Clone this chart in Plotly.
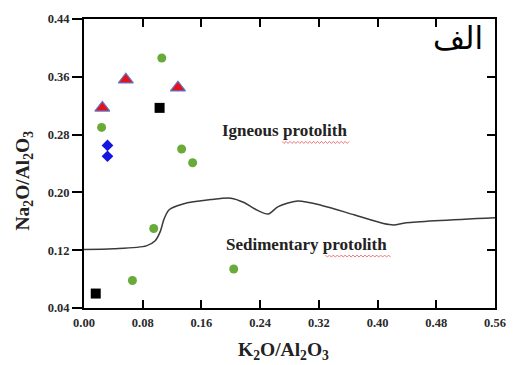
import plotly.graph_objects as go

# Data
green_x = [0.106, 0.024, 0.133, 0.148, 0.095, 0.066, 0.204]
green_y = [0.386, 0.290, 0.260, 0.241, 0.150, 0.078, 0.094]
tri_x = [0.025, 0.057, 0.128]
tri_y = [0.317, 0.356, 0.345]
sq_x = [0.103, 0.016]
sq_y = [0.317, 0.060]
dia_x = [0.032, 0.032]
dia_y = [0.265, 0.250]
curve_x = [0.0, 0.04, 0.085, 0.097, 0.104, 0.109, 0.116, 0.135, 0.173, 0.200, 0.218,
           0.233, 0.251, 0.264, 0.291, 0.324, 0.368, 0.408, 0.422, 0.439, 0.560]
curve_y = [0.121, 0.122, 0.126, 0.133, 0.146, 0.163, 0.176, 0.184, 0.190, 0.192, 0.186,
           0.177, 0.170, 0.180, 0.188, 0.182, 0.169, 0.157, 0.155, 0.158, 0.165]
x_ticks = [0.0, 0.08, 0.16, 0.24, 0.32, 0.40, 0.48, 0.56]
y_ticks = [0.04, 0.12, 0.20, 0.28, 0.36, 0.44]
x_tick_text = ["0.00", "0.08", "0.16", "0.24", "0.32", "0.40", "0.48", "0.56"]
y_tick_text = ["0.04", "0.12", "0.20", "0.28", "0.36", "0.44"]

serif = "Liberation Serif, Times New Roman, serif"
fig = go.Figure()
fig.add_trace(go.Scatter(x=curve_x, y=curve_y, mode="lines",
                         line=dict(color="#3a3a3a", width=1.5, shape="spline", smoothing=0.8),
                         hoverinfo="skip"))
fig.add_trace(go.Scatter(x=green_x, y=green_y, mode="markers",
                         marker=dict(symbol="circle", size=9, color="#6aaa3a")))
fig.add_trace(go.Scatter(x=tri_x, y=tri_y, mode="markers",
                         marker=dict(symbol="triangle-up", size=13, color="#e8101a",
                                     line=dict(color="#5a78c8", width=1.2))))
fig.add_trace(go.Scatter(x=sq_x, y=sq_y, mode="markers",
                         marker=dict(symbol="square", size=10, color="black")))
fig.add_trace(go.Scatter(x=dia_x, y=dia_y, mode="markers",
                         marker=dict(symbol="diamond", size=9, color="#1515e0")))
# invisible trace to draw the mirrored tick axes
fig.add_trace(go.Scatter(x=[0], y=[0.04], xaxis="x2", yaxis="y2", mode="markers",
                         marker=dict(opacity=0), hoverinfo="skip"))

# red spell-check wavy underlines (pixel -> paper conversion)
L, T, W, H = 84, 13, 417, 295
def wavy(x0, x1, y):
    pts = []
    n = int((x1 - x0) / 2)
    for i in range(n + 1):
        px = x0 + i * 2
        py = y + (1 if i % 2 else -1)
        pts.append(((px - L) / W, (T + H - py) / H))
    return "M " + " L ".join(f"{a:.4f},{b:.4f}" for a, b in pts)

shapes = [
    dict(type="path", xref="paper", yref="paper", path=wavy(285, 353, 139),
         line=dict(color="#e85050", width=0.8)),
    dict(type="path", xref="paper", yref="paper", path=wavy(329, 396, 255),
         line=dict(color="#e85050", width=0.8)),
]

tickfont = dict(family=serif, size=12.5, color="#2a2a2a", weight="bold")
titlefont = dict(family=serif, size=19.5, color="#222", weight="bold")
fig.update_layout(
    width=518, height=365,
    margin=dict(l=L, r=518 - L - W, t=T, b=365 - T - H),
    plot_bgcolor="white", paper_bgcolor="white",
    showlegend=False,
    shapes=shapes,
    xaxis=dict(range=[0, 0.56], tickvals=x_ticks, ticktext=x_tick_text,
               ticks="inside", ticklen=8, tickwidth=2, tickcolor="black",
               showline=True, linewidth=2, linecolor="black", mirror=True,
               showgrid=False, zeroline=False, tickfont=tickfont, ticklabelstandoff=2),
    yaxis=dict(range=[0.04, 0.44], tickvals=y_ticks, ticktext=y_tick_text,
               ticks="outside", ticklen=10, tickwidth=2, tickcolor="black",
               showline=True, linewidth=2, linecolor="black", mirror=True,
               showgrid=False, zeroline=False, tickfont=tickfont),
    xaxis2=dict(range=[0, 0.56], tickvals=x_ticks, overlaying="x", side="top",
                anchor="y", ticks="inside", ticklen=8, tickwidth=2, tickcolor="black",
                showticklabels=False, showgrid=False, zeroline=False, showline=False),
    yaxis2=dict(range=[0.04, 0.44], tickvals=y_ticks, overlaying="y", side="right",
                anchor="x", ticks="inside", ticklen=8, tickwidth=2, tickcolor="black",
                showticklabels=False, showgrid=False, zeroline=False, showline=False),
    annotations=[
        dict(x=(286 - L) / W, y=(T + H - 352) / H, xref="paper", yref="paper",
             xanchor="center", yanchor="middle",
             text="K<sub>2</sub>O/Al<sub>2</sub>O<sub>3</sub>", showarrow=False,
             font=titlefont),
        dict(x=(23 - L) / W, y=(T + H - 178) / H, xref="paper", yref="paper",
             xanchor="center", yanchor="middle",
             text="Na<sub>2</sub>O/Al<sub>2</sub>O<sub>3</sub>", showarrow=False,
             textangle=-90, font=titlefont),
        dict(x=0.2726, y=0.285, xref="x", yref="y", xanchor="center", yanchor="middle",
             text="Igneous protolith", showarrow=False,
             font=dict(family=serif, size=17, color="#222", weight="bold")),
        dict(x=0.3035, y=0.128, xref="x", yref="y", xanchor="center", yanchor="middle",
             text="Sedimentary protolith", showarrow=False,
             font=dict(family=serif, size=17, color="#222", weight="bold")),
        dict(x=0.509, y=0.414, xref="x", yref="y", xanchor="center", yanchor="middle",
             text="الف", showarrow=False,
             font=dict(family="DejaVu Sans", size=31, color="black")),
    ],
)
fig.write_html("out.html", config={"displayModeBar": False},
               post_script="document.body.style.margin='0';")
